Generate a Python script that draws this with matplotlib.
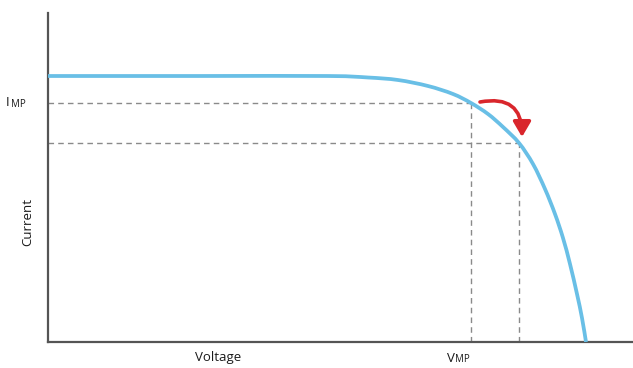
import matplotlib
matplotlib.use("Agg")
import matplotlib.pyplot as plt
import numpy as np
from matplotlib.path import Path
from matplotlib.patches import PathPatch

# I-V curve samples (arbitrary units)
voltage = [0, 150, 280, 320, 350, 380, 405, 423, 440, 455, 471, 485, 497, 507, 515, 522, 529, 534, 538]
current = [266, 266, 266, 264.5, 262, 256, 248, 239, 228, 215, 199, 178, 153, 128, 104, 78, 48, 24, 0]

# maximum power point before / after the shift
mpp_v = [423, 471]
mpp_i = [239, 199]

plt.rcParams['font.family'] = ['Open Sans', 'DejaVu Sans']

fig = plt.figure(figsize=(6.33, 3.68), dpi=100)
W, H = 633, 368
ax = fig.add_axes([48 / W, (H - 342) / H, 585 / W, 329 / H])
ax.set_xlim(0, 585)
ax.set_ylim(0, 329)

dash_kw = dict(color='#8a8a8a', lw=1.0, dashes=(4, 3), zorder=1)
for v, i in zip(mpp_v, mpp_i):
    ax.plot([0, v], [i, i], **dash_kw)
    ax.plot([v, v], [0, i], **dash_kw)

# smooth curve through the sample points (Catmull-Rom drawn as cubic Bezier)
pts = np.column_stack([voltage, current]).astype(float)
ext = np.vstack([pts[0], pts, pts[-1]])
verts = [tuple(pts[0])]
codes = [Path.MOVETO]
for k in range(1, len(ext) - 2):
    p0, p1, p2, p3 = ext[k - 1], ext[k], ext[k + 1], ext[k + 2]
    c1 = p1 + (p2 - p0) / 6.0
    c2 = p2 - (p3 - p1) / 6.0
    verts += [tuple(c1), tuple(c2), tuple(p2)]
    codes += [Path.CURVE4] * 3
ax.add_patch(PathPatch(Path(verts, codes), facecolor='none', edgecolor='#69bfe6',
                       lw=2.7, capstyle='butt', zorder=3))

ax.annotate('', xy=(mpp_v[1] + 3, mpp_i[1] + 6), xytext=(mpp_v[0] + 9, mpp_i[0] + 1),
            arrowprops=dict(arrowstyle='-|>,head_length=0.65,head_width=0.38',
                            color='#d9262c', lw=2.6, mutation_scale=14,
                            connectionstyle='arc3,rad=-0.6', shrinkA=0, shrinkB=0),
            zorder=4)

for s in ['top', 'right']:
    ax.spines[s].set_visible(False)
for s in ['left', 'bottom']:
    ax.spines[s].set_color('#555555')
    ax.spines[s].set_linewidth(1.6)
ax.set_xticks([])
ax.set_yticks([])

fs = 9.5
col = '#1a1a1a'
fig.text(218 / W, 1 - 358 / H, 'Voltage', ha='center', va='center', fontsize=fs, color=col)
fig.text(28 / W, 1 - 222 / H, 'Current', ha='center', va='center', rotation=90, fontsize=fs, color=col)
fig.text(447 / W, 1 - 358 / H, 'V', ha='left', va='center', fontsize=fs, color=col)
fig.text(455 / W, 1 - 359.5 / H, 'MP', ha='left', va='center', fontsize=7, color=col)
fig.text(6 / W, 1 - 103 / H, 'I', ha='left', va='center', fontsize=fs, color=col)
fig.text(10.5 / W, 1 - 104.5 / H, 'MP', ha='left', va='center', fontsize=7, color=col)

fig.savefig('out.png', dpi=100)
